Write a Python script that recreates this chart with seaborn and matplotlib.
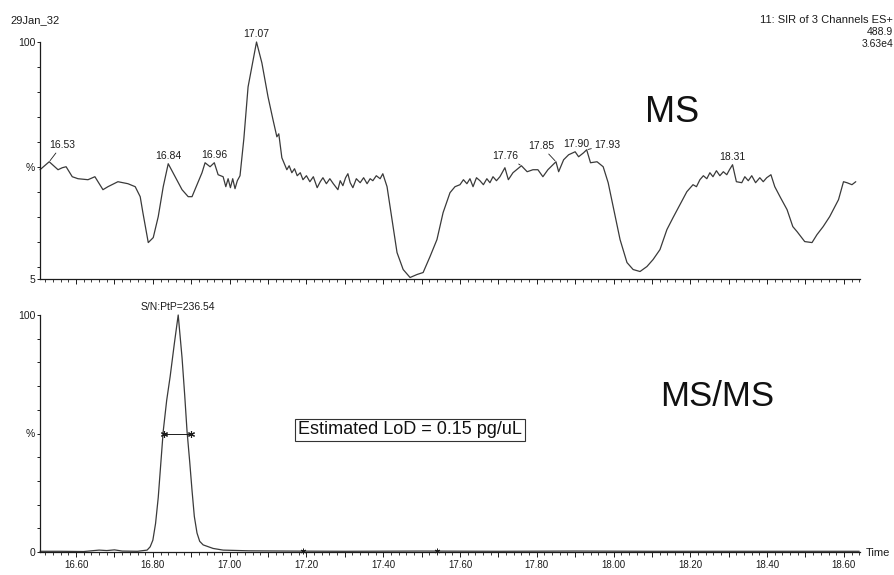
import matplotlib
matplotlib.use("Agg")
import matplotlib.pyplot as plt
from matplotlib.ticker import MultipleLocator, FixedLocator, FuncFormatter
import pandas as pd
import seaborn as sns

# MS (SIR) trace: retention time (min) and relative intensity (%)
ms_time = [16.506, 16.530, 16.553, 16.564, 16.574, 16.590, 16.605, 16.631, 16.649, 16.670,
           16.683, 16.709, 16.735, 16.754, 16.767, 16.774, 16.788, 16.801, 16.814, 16.827,
           16.840, 16.858, 16.876, 16.892, 16.902, 16.915, 16.928, 16.936, 16.949, 16.960,
           16.970, 16.983, 16.990, 16.996, 17.002, 17.008, 17.014, 17.020, 17.027, 17.037,
           17.048, 17.070, 17.084, 17.100, 17.113, 17.123, 17.128, 17.136, 17.149, 17.155,
           17.162, 17.169, 17.176, 17.184, 17.191, 17.200, 17.209, 17.218, 17.228, 17.236,
           17.243, 17.252, 17.261, 17.270, 17.282, 17.288, 17.295, 17.302, 17.308, 17.314,
           17.321, 17.330, 17.340, 17.349, 17.358, 17.366, 17.373, 17.382, 17.392, 17.399,
           17.410, 17.423, 17.436, 17.452, 17.470, 17.488, 17.504, 17.522, 17.540, 17.556,
           17.574, 17.587, 17.600, 17.609, 17.618, 17.626, 17.634, 17.643, 17.652, 17.661,
           17.670, 17.678, 17.686, 17.695, 17.704, 17.717, 17.726, 17.738, 17.760, 17.775,
           17.790, 17.803, 17.816, 17.829, 17.850, 17.857, 17.870, 17.883, 17.900, 17.909,
           17.922, 17.930, 17.940, 17.957, 17.973, 17.986, 17.999, 18.017, 18.035, 18.051,
           18.069, 18.087, 18.103, 18.121, 18.139, 18.155, 18.173, 18.191, 18.207, 18.216,
           18.225, 18.234, 18.243, 18.251, 18.259, 18.268, 18.277, 18.286, 18.295, 18.302,
           18.310, 18.320, 18.334, 18.342, 18.351, 18.360, 18.370, 18.381, 18.390, 18.399,
           18.410, 18.420, 18.435, 18.452, 18.467, 18.478, 18.498, 18.517, 18.530, 18.546,
           18.563, 18.586, 18.599, 18.608, 18.621, 18.631]
ms_pct = [48.8, 52.0, 48.8, 49.6, 50.0, 46.0, 45.2, 44.8, 46.0, 40.8,
          42.0, 44.0, 43.2, 42.0, 38.0, 31.6, 19.6, 21.6, 30.0, 42.0,
          51.2, 46.0, 40.8, 38.0, 38.0, 42.8, 47.6, 51.6, 50.0, 51.6,
          46.8, 46.0, 42.0, 45.2, 41.6, 45.2, 41.2, 44.4, 46.4, 61.2,
          82.0, 100.0, 91.6, 78.0, 68.8, 62.0, 63.2, 53.6, 48.8, 50.4,
          47.6, 49.2, 46.4, 47.6, 44.8, 46.4, 44.0, 46.0, 41.6, 44.0,
          45.6, 43.2, 45.2, 43.2, 40.8, 44.4, 42.4, 45.6, 47.2, 43.6,
          41.6, 45.2, 43.6, 45.6, 43.2, 45.2, 44.4, 46.4, 45.2, 47.2,
          42.0, 28.8, 15.6, 8.8, 5.6, 6.8, 7.6, 14.0, 20.8, 31.6,
          39.6, 42.0, 42.8, 44.8, 43.2, 45.2, 42.0, 45.6, 44.4, 42.8,
          45.2, 43.6, 46.0, 44.4, 46.0, 49.6, 44.8, 47.6, 50.4, 48.0,
          48.8, 48.8, 46.0, 48.8, 52.0, 48.0, 52.8, 54.8, 56.0, 54.0,
          55.6, 56.8, 51.6, 52.0, 50.0, 43.6, 34.0, 20.8, 11.6, 8.8,
          8.0, 10.0, 12.8, 16.8, 24.8, 29.6, 34.8, 40.0, 42.8, 42.0,
          44.8, 46.4, 45.2, 47.6, 46.0, 48.4, 46.4, 48.0, 46.8, 48.8,
          50.8, 44.0, 43.6, 46.0, 44.4, 46.4, 43.6, 45.6, 44.0, 45.6,
          46.8, 42.0, 37.6, 32.8, 26.0, 24.0, 20.0, 19.6, 22.8, 26.0,
          30.0, 36.8, 44.0, 43.6, 42.8, 44.0]

# MS/MS (MRM) trace
msms_time = [16.506, 16.560, 16.620, 16.660, 16.680, 16.700, 16.720, 16.760, 16.785, 16.793,
             16.800, 16.807, 16.814, 16.827, 16.836, 16.845, 16.856, 16.866, 16.876, 16.883,
             16.889, 16.896, 16.902, 16.908, 16.915, 16.922, 16.931, 16.957, 16.983, 17.050,
             17.150, 17.300, 17.500, 17.700, 17.900, 18.100, 18.300, 18.500, 18.640]
msms_pct = [0.3, 0.3, 0.2, 0.8, 0.6, 0.9, 0.4, 0.3, 0.8, 2.2,
            5.0, 12.0, 23.0, 51.0, 64.0, 74.0, 88.0, 100.0, 82.0, 66.0,
            51.0, 38.0, 26.0, 15.0, 8.0, 4.5, 3.0, 1.5, 0.8, 0.5,
            0.4, 0.3, 0.4, 0.3, 0.4, 0.3, 0.3, 0.3, 0.3]

# Apex retention times labelled on the MS trace
ms_peak_labels = [16.53, 16.84, 16.96, 17.07, 17.76, 17.85, 17.90, 17.93, 18.31]
# label offsets (pixels right, pixels up) from each apex
ms_label_offsets = [(13, 17), (0, 8), (0, 8), (0, 8), (-16, 10), (-15, 16), (1, 8), (21, 5), (0, 8)]
leader_labels = [16.53, 17.76, 17.85, 17.93]

# Peak-width markers at half height and noise-window markers on the MS/MS trace
half_height_span = [16.829, 16.900]
half_height_level = 50.0
noise_marks = [17.19, 17.54]
sn_text = "S/N:PtP=236.54"
lod_text = "Estimated LoD = 0.15 pg/uL"

W, H = 895, 575
INK = "#1c1c1c"
TRACE = "#3a3a3a"

sns.set_style("ticks")
plt.rcParams["font.family"] = ["Liberation Sans", "DejaVu Sans"]
plt.rcParams["axes.edgecolor"] = INK
plt.rcParams["xtick.color"] = INK
plt.rcParams["ytick.color"] = INK

fig = plt.figure(figsize=(W / 100, H / 100), dpi=100)
ax1 = fig.add_axes([40 / W, 1 - 279 / H, 820 / W, 237 / H])
ax2 = fig.add_axes([40 / W, 1 - 552 / H, 820 / W, 237 / H])

ms_df = pd.DataFrame({"time": ms_time, "pct": ms_pct})
msms_df = pd.DataFrame({"time": msms_time, "pct": msms_pct})

sns.lineplot(data=ms_df, x="time", y="pct", ax=ax1, color=TRACE, linewidth=0.9,
             estimator=None, sort=False, clip_on=False)
sns.lineplot(data=msms_df, x="time", y="pct", ax=ax2, color=TRACE, linewidth=0.9,
             estimator=None, sort=False, clip_on=False)

x_lo, x_hi = 16.506, 18.642
for ax in (ax1, ax2):
    ax.set_xlim(x_lo, x_hi)
    sns.despine(ax=ax, top=True, right=True)
    ax.xaxis.set_major_locator(MultipleLocator(0.1))
    ax.xaxis.set_minor_locator(MultipleLocator(0.02))
    ax.tick_params(axis="x", which="major", direction="out", length=3.5, width=0.7,
                   labelsize=7, pad=2)
    ax.tick_params(axis="x", which="minor", direction="out", length=1.8, width=0.6)
    ax.tick_params(axis="y", which="major", direction="out", length=2.5, width=0.7,
                   labelsize=7.5, pad=1)
    ax.set_xlabel("")
    ax.set_ylabel("")
    for s in ax.spines.values():
        s.set_linewidth(0.9)

ax1.set_ylim(5, 100)
ax1.yaxis.set_major_locator(FixedLocator([5, 10, 20, 30, 40, 50, 60, 70, 80, 90, 100]))
ax1.yaxis.set_major_formatter(FuncFormatter(
    lambda v, p: {5: "5", 50: "%", 100: "100"}.get(int(round(v)), "")))
ax1.tick_params(axis="x", labelbottom=False)

ax2.set_ylim(0, 100)
ax2.yaxis.set_major_locator(MultipleLocator(10))
ax2.yaxis.set_major_formatter(FuncFormatter(
    lambda v, p: {0: "0", 50: "%", 100: "100"}.get(int(round(v)), "")))
ax2.xaxis.set_major_formatter(FuncFormatter(
    lambda v, p: f"{v:.2f}" if abs(round(v * 5) - v * 5) < 1e-6 else ""))

# Apex labels on the MS trace
for t, (dx, dy) in zip(ms_peak_labels, ms_label_offsets):
    v = ms_pct[ms_time.index(t)]
    kw = {}
    if t in leader_labels:
        kw["arrowprops"] = dict(arrowstyle="-", lw=0.6, color=INK, shrinkA=0, shrinkB=1)
    ax1.annotate(f"{t:.2f}", xy=(t, v), xytext=(dx * 0.72, dy * 0.72),
                 textcoords="offset points", ha="center", va="center",
                 fontsize=7.5, color=INK, annotation_clip=False, **kw)

# S/N label at the MS/MS apex
apex_i = msms_pct.index(max(msms_pct))
ax2.annotate(sn_text, xy=(msms_time[apex_i], msms_pct[apex_i]), xytext=(0, 6),
             textcoords="offset points", ha="center", va="center",
             fontsize=7.5, color=INK, annotation_clip=False)

# half-height width bar
ax2.plot(half_height_span, [half_height_level] * 2, color=INK, lw=0.7,
         marker=(6, 2, 0), markersize=5, markeredgewidth=0.8)
ax2.plot(noise_marks, [0.6] * len(noise_marks), linestyle="none", color=INK,
         marker=(6, 2, 0), markersize=4, markeredgewidth=0.7, clip_on=False)

# header text
fig.text(10 / W, 1 - 20 / H, "29Jan_32", fontsize=8, color=INK, ha="left", va="center")
fig.text(893 / W, 1 - 20 / H, "11: SIR of 3 Channels ES+", fontsize=8, color=INK,
         ha="right", va="center")
fig.text(893 / W, 1 - 32 / H, "488.9", fontsize=7.5, color=INK, ha="right", va="center")
fig.text(893 / W, 1 - 44 / H, "3.63e4", fontsize=7.5, color=INK, ha="right", va="center")

# panel titles and annotations
fig.text(672 / W, 1 - 113 / H, "MS", fontsize=26, color="#111111", ha="center", va="center")
fig.text(717 / W, 1 - 397 / H, "MS/MS", fontsize=25, color="#111111", ha="center", va="center")
fig.text(410 / W, 1 - 430 / H, lod_text, fontsize=13, color="#111111", ha="center", va="center",
         bbox=dict(boxstyle="square,pad=0.15", facecolor="white", edgecolor="#333333", lw=0.8))
fig.text(866 / W, 1 - 553 / H, "Time", fontsize=8, color=INK, ha="left", va="center")

fig.savefig("out.png", dpi=100)
